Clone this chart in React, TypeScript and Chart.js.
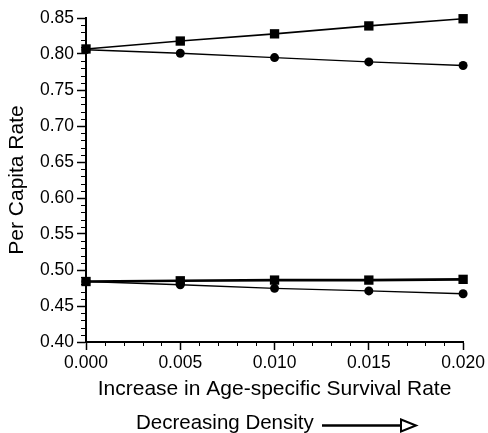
import React, { useEffect, useRef } from "react";
import { Chart, registerables } from "chart.js";

Chart.register(...registerables);

const xValues = [0.0, 0.005, 0.01, 0.015, 0.02];
const upperSquares = [0.807, 0.818, 0.828, 0.839, 0.849];
const upperCircles = [0.806, 0.801, 0.795, 0.789, 0.784];
const lowerSquares = [0.484, 0.485, 0.486, 0.486, 0.487];
const lowerCircles = [0.484, 0.4795, 0.4745, 0.471, 0.467];

const xTitle = "Increase in Age-specific Survival Rate";
const yTitle = "Per Capita Rate";
const footerText = "Decreasing Density";

const FONT = "'Liberation Sans', Arial, Helvetica, sans-serif";

const minorTicks = {
  id: "minorTicks",
  afterDraw(chart: any) {
    const ctx = chart.ctx;
    const xs = chart.scales.x;
    const ys = chart.scales.y;
    const area = chart.chartArea;
    ctx.save();
    ctx.strokeStyle = "#000";
    ctx.lineWidth = 1;
    for (let i = 0; i <= 45; i++) {
      if (i % 5 === 0) continue;
      const v = 0.4 + i * 0.01;
      const py = Math.round(ys.getPixelForValue(v)) + 0.5;
      ctx.beginPath();
      ctx.moveTo(area.left - 5, py);
      ctx.lineTo(area.left, py);
      ctx.stroke();
    }
    for (let i = 0; i <= 20; i++) {
      if (i % 5 === 0) continue;
      const v = i * 0.001;
      const px = Math.round(xs.getPixelForValue(v)) + 0.5;
      ctx.beginPath();
      ctx.moveTo(px, area.bottom);
      ctx.lineTo(px, area.bottom + 4);
      ctx.stroke();
    }
    // footer text with arrow
    ctx.fillStyle = "#000";
    ctx.font = `20.5px ${FONT}`;
    ctx.textBaseline = "alphabetic";
    ctx.textAlign = "left";
    ctx.fillText(footerText, 136, 429);
    ctx.lineWidth = 2.5;
    ctx.beginPath();
    ctx.moveTo(322, 425.5);
    ctx.lineTo(402, 425.5);
    ctx.stroke();
    ctx.lineWidth = 2;
    ctx.fillStyle = "#fff";
    ctx.beginPath();
    ctx.moveTo(401, 419.5);
    ctx.lineTo(416, 425.5);
    ctx.lineTo(401, 431.5);
    ctx.closePath();
    ctx.fill();
    ctx.stroke();
    ctx.restore();
  },
};

export default function App() {
  const ref = useRef<HTMLCanvasElement | null>(null);
  useEffect(() => {
    document.body.style.margin = "0";
    const mk = (vals: number[], style: string, r: number, w: number) => ({
      data: xValues.map((x, i) => ({ x, y: vals[i] })),
      borderColor: "#000",
      backgroundColor: "#000",
      borderWidth: w,
      pointStyle: style,
      pointRadius: r,
      pointBorderWidth: 0,
      pointBackgroundColor: "#000",
      showLine: true,
      tension: 0,
      clip: false,
    });
    const chart = new Chart(ref.current!, {
      type: "scatter",
      data: {
        datasets: [
          mk(upperSquares, "rect", 6.6, 1.6),
          mk(upperCircles, "circle", 4.5, 1.4),
          mk(lowerSquares, "rect", 6.6, 2.6),
          mk(lowerCircles, "circle", 4.5, 1.4),
        ] as any,
      },
      plugins: [minorTicks],
      options: {
        animation: false,
        responsive: false,
        devicePixelRatio: 1,
        layout: { padding: { left: 0, right: 24, top: 18, bottom: 31 } },
        plugins: { legend: { display: false }, tooltip: { enabled: false } },
        scales: {
          x: {
            type: "linear",
            min: 0,
            max: 0.02,
            afterFit: (s: any) => {
              s.height = 60;
            },
            ticks: {
              stepSize: 0.005,
              color: "#000",
              padding: 3,
              maxRotation: 0,
              font: { family: FONT, size: 17.5 },
              callback: (v: any) => Number(v).toFixed(3),
            },
            grid: { drawOnChartArea: false, tickLength: 8, tickColor: "#000", tickWidth: 1.5 },
            border: { color: "#000", width: 2 },
            title: {
              display: true,
              text: xTitle,
              color: "#000",
              font: { family: FONT, size: 21 },
              padding: { top: 1.5, bottom: 0 },
            },
          },
          y: {
            type: "linear",
            min: 0.4,
            max: 0.85,
            afterFit: (s: any) => {
              s.width = 86;
            },
            ticks: {
              stepSize: 0.05,
              color: "#000",
              padding: 3,
              font: { family: FONT, size: 17.5 },
              callback: (v: any) => Number(v).toFixed(2),
            },
            grid: { drawOnChartArea: false, tickLength: 9, tickColor: "#000", tickWidth: 1.5 },
            border: { color: "#000", width: 2 },
            title: {
              display: true,
              text: yTitle,
              color: "#000",
              font: { family: FONT, size: 21 },
              padding: { top: 5, bottom: 0 },
            },
          },
        },
      },
    } as any);
    return () => chart.destroy();
  }, []);
  return (
    <div style={{ width: 488, height: 433 }}>
      <canvas ref={ref} width={488} height={433} style={{ display: "block" }} />
    </div>
  );
}
